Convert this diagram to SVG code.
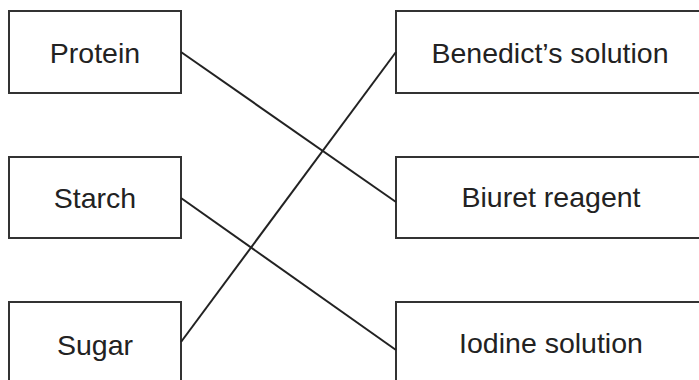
<svg xmlns="http://www.w3.org/2000/svg" width="699" height="380" viewBox="0 0 699 380">
<style>
.box{fill:#fff;stroke:#333;stroke-width:2}
.lbl{font-family:"Liberation Sans",Arial,sans-serif;font-size:28.5px;fill:#222;text-anchor:middle}
.conn line{stroke:#222;stroke-width:2}
</style>
<rect width="699" height="380" fill="#fff"/>
<g id="protein"><rect class="box" x="9" y="11" width="172" height="82"/><text class="lbl" x="95" y="63">Protein</text></g>
<g id="starch"><rect class="box" x="9" y="157" width="172" height="81"/><text class="lbl" x="95" y="208">Starch</text></g>
<g id="sugar"><rect class="box" x="9" y="302" width="172" height="100"/><text class="lbl" x="95" y="355">Sugar</text></g>
<g id="benedict"><rect class="box" x="396" y="11" width="320" height="82"/><text class="lbl" x="550" y="63">Benedict’s solution</text></g>
<g id="biuret"><rect class="box" x="396" y="157" width="320" height="81"/><text class="lbl" x="551" y="207">Biuret reagent</text></g>
<g id="iodine"><rect class="box" x="396" y="302" width="320" height="100"/><text class="lbl" x="551" y="353">Iodine solution</text></g>
<g class="conn" id="connectors">
<line x1="181" y1="52" x2="396" y2="202"/>
<line x1="181" y1="198" x2="396" y2="350"/>
<line x1="181" y1="342" x2="396" y2="52"/>
</g>
</svg>
